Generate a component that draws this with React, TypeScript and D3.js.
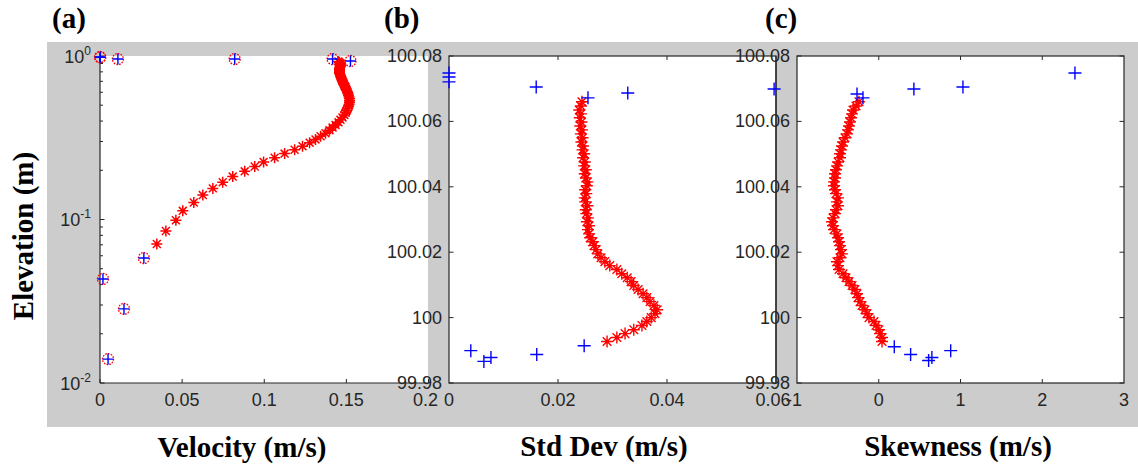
import React from "react";
import * as d3 from "d3";

// ---------- Panel (a): velocity profile ----------
const velElev = [0.0708,0.085,0.099,0.113,0.127,0.141,0.155,0.169,0.183,0.197,0.211,0.225,0.239,0.253,0.267,0.281,0.295,0.309,0.323,0.337,0.351,0.365,0.379,0.393,0.407,0.421,0.435,0.449,0.463,0.477,0.491,0.505,0.519,0.533,0.547,0.561,0.575,0.589,0.603,0.617,0.631,0.645,0.659,0.673,0.687,0.701,0.715,0.729,0.743,0.757,0.771,0.785,0.799,0.813,0.827,0.841,0.855,0.869,0.883,0.897,0.911,0.925];
const velValues = [0.0346,0.0401,0.0462,0.0504,0.0571,0.0626,0.0687,0.0747,0.0808,0.0881,0.0942,0.0996,0.1063,0.1124,0.1185,0.1233,0.1276,0.1312,0.1343,0.1373,0.1397,0.1416,0.1434,0.1452,0.1464,0.1476,0.1488,0.1495,0.1501,0.1507,0.1513,0.1516,0.1519,0.1519,0.1519,0.1516,0.1513,0.1510,0.1507,0.1501,0.1498,0.1495,0.1488,0.1485,0.1482,0.1476,0.1473,0.1470,0.1467,0.1464,0.1461,0.1458,0.1458,0.1458,0.1458,0.1458,0.1461,0.1464,0.1464,0.1464,0.1458,0.1452];
const velPtElev = [0.986,0.982,0.958,0.958,0.958,0.932,0.0581,0.0433,0.0284,0.0140];
const velPtValues = [0.0,0.0002,0.0109,0.082,0.1416,0.1525,0.0267,0.0018,0.0146,0.0049];

// ---------- Panels (b) and (c): profiles ----------
const profElev = [99.9927,99.9939,99.9951,99.9963,99.9976,99.9988,100.0000,100.0012,100.0024,100.0037,100.0049,100.0061,100.0073,100.0086,100.0098,100.0110,100.0122,100.0134,100.0147,100.0159,100.0171,100.0183,100.0195,100.0208,100.0220,100.0232,100.0244,100.0256,100.0269,100.0281,100.0293,100.0305,100.0318,100.0330,100.0342,100.0354,100.0366,100.0379,100.0391,100.0403,100.0415,100.0427,100.0440,100.0452,100.0464,100.0476,100.0489,100.0501,100.0513,100.0525,100.0537,100.0550,100.0562,100.0574,100.0586,100.0598,100.0611,100.0623,100.0635,100.0647,100.0660];
const stdValues = [0.0290,0.0308,0.0323,0.0339,0.0354,0.0363,0.0371,0.0378,0.0382,0.0376,0.0369,0.0363,0.0356,0.0347,0.0339,0.0334,0.0327,0.0317,0.0308,0.0295,0.0286,0.0279,0.0273,0.0270,0.0266,0.0264,0.0259,0.0257,0.0255,0.0257,0.0253,0.0255,0.0252,0.0251,0.0254,0.0250,0.0249,0.0252,0.0250,0.0253,0.0254,0.0251,0.0249,0.0251,0.0248,0.0249,0.0246,0.0248,0.0245,0.0246,0.0243,0.0245,0.0242,0.0244,0.0241,0.0243,0.0240,0.0242,0.0239,0.0242,0.0244];
const skewValues = [0.040,0.040,0.015,0.003,-0.034,-0.058,-0.119,-0.144,-0.168,-0.205,-0.229,-0.254,-0.266,-0.291,-0.327,-0.364,-0.401,-0.437,-0.486,-0.498,-0.511,-0.474,-0.450,-0.462,-0.474,-0.486,-0.498,-0.511,-0.547,-0.560,-0.572,-0.560,-0.535,-0.523,-0.498,-0.511,-0.498,-0.523,-0.535,-0.547,-0.547,-0.535,-0.535,-0.523,-0.511,-0.498,-0.474,-0.474,-0.462,-0.450,-0.437,-0.413,-0.388,-0.376,-0.364,-0.352,-0.339,-0.327,-0.315,-0.278,-0.242];

const stdPtElev = [100.0748,100.0736,100.0721,100.0705,100.0672,100.0687,99.9899,99.9866,99.9878,99.9887,99.9914];
const stdPtValues = [0.0,0.0,0.0,0.016,0.0255,0.0328,0.004,0.0064,0.0077,0.0161,0.0248];
const skewPtElev = [100.0699,100.0684,100.0672,100.0699,100.0705,100.0748,99.9911,99.9887,99.9869,99.9878,99.9899];
const skewPtValues = [-1.28,-0.266,-0.193,0.43,1.03,2.40,0.19,0.39,0.61,0.65,0.88];

// ---------- ticks ----------
const aXTicks = [0, 0.05, 0.1, 0.15, 0.2];
const aXLabels = ["0", "0.05", "0.1", "0.15", "0.2"];
const aYTicks = [0.01, 0.1, 1];
const aYExp = ["-2", "-1", "0"];
const aYMinorMant = [2, 3, 4, 5, 6, 7, 8, 9];
const bXTicks = [0, 0.02, 0.04, 0.06];
const bXLabels = ["0", "0.02", "0.04", "0.06"];
const elevTicks = [99.98, 100, 100.02, 100.04, 100.06, 100.08];
const elevLabels = ["99.98", "100", "100.02", "100.04", "100.06", "100.08"];
const cXTicks = [-1, 0, 1, 2, 3];
const cXLabels = ["-1", "0", "1", "2", "3"];

const GRAY = "#cccccc";
const AX = "#262626";
const TF = "'Liberation Sans', Arial, Helvetica, sans-serif";
const LF = "'Liberation Serif', 'Times New Roman', serif";
const TOP = 56, BOT = 383;

function asterisk(x: number, y: number, r: number) {
  const d = r * 0.72;
  return `M${x - r},${y}H${x + r}M${x},${y - r}V${y + r}M${x - d},${y - d}L${x + d},${y + d}M${x - d},${y + d}L${x + d},${y - d}`;
}
function plus(x: number, y: number, r: number) {
  return `M${x - r},${y}H${x + r}M${x},${y - r}V${y + r}`;
}

export default function App() {
  const xA = d3.scaleLinear().domain([0, 0.2]).range([100, 428.5]);
  const yA = d3.scaleLog().domain([0.01, 1]).range([BOT, TOP]);
  const xB = d3.scaleLinear().domain([0, 0.06]).range([449, 776]);
  const xC = d3.scaleLinear().domain([-1, 3]).range([797, 1124]);
  const yE = d3.scaleLinear().domain([99.98, 100.08]).range([BOT, TOP]);

  const minorA: number[] = [];
  [0.01, 0.1].forEach((dec) => aYMinorMant.forEach((m) => minorA.push(m * dec)));

  const tickText = { fontFamily: TF, fontSize: 18, fill: AX } as const;

  const asterA = velElev.map((e, i) => asterisk(xA(velValues[i]), yA(e), 5.5)).join("");
  const asterB = profElev.map((e, i) => asterisk(xB(stdValues[i]), yE(e), 6)).join("");
  const asterC = profElev.map((e, i) => asterisk(xC(skewValues[i]), yE(e), 6)).join("");
  const plusB = stdPtElev.map((e, i) => plus(xB(stdPtValues[i]), yE(e), 6.5)).join("");
  const plusC = skewPtElev.map((e, i) => plus(xC(skewPtValues[i]), yE(e), 6.5)).join("");

  return (
    <svg width={1138} height={464} style={{ position: "absolute", left: 0, top: 0 }}>
      <rect x={0} y={0} width={1138} height={464} fill="#ffffff" />
      <rect x={47} y={42} width={1091} height={385} fill={GRAY} />
      <rect x={100} y={TOP} width={328} height={BOT - TOP} fill="#fff" />
      <rect x={449} y={TOP} width={327} height={BOT - TOP} fill="#fff" />
      <rect x={797} y={TOP} width={327} height={BOT - TOP} fill="#fff" />

      {/* ---------- Panel a ---------- */}
      <g>
        <line x1={100} y1={TOP} x2={100} y2={BOT} stroke={AX} strokeWidth={1.2} />
        <line x1={100} y1={BOT} x2={428} y2={BOT} stroke={AX} strokeWidth={1.2} />
        {aXTicks.map((t, i) => (
          <g key={"ax" + i}>
            <line x1={xA(t)} x2={xA(t)} y1={BOT} y2={BOT - 4} stroke={AX} />
            <text x={xA(t) - (i === 4 ? 3 : 0)} y={406} textAnchor="middle" {...tickText}>{aXLabels[i]}</text>
          </g>
        ))}
        {aYTicks.map((t, i) => (
          <g key={"ay" + i}>
            <line x1={100} x2={104.5} y1={yA(t)} y2={yA(t)} stroke={AX} />
            <text x={91} y={yA(t) + 6.5} textAnchor="end" {...tickText}>
              10<tspan dy={-8} fontSize={12}>{aYExp[i]}</tspan>
            </text>
          </g>
        ))}
        {minorA.map((t, i) => (
          <line key={"am" + i} x1={100} x2={103} y1={yA(t)} y2={yA(t)} stroke={AX} />
        ))}
        <path d={asterA} stroke="#ff0000" strokeWidth={1.5} fill="none" />
        {velPtElev.map((e, i) => (
          <g key={"ac" + i}>
            <circle cx={xA(velPtValues[i])} cy={yA(e)} r={5.5} fill="none" stroke="#ff0000" strokeWidth={1.3} strokeDasharray="1.6 1.2" />
            <path d={plus(xA(velPtValues[i]), yA(e), 5.5)} stroke="#0000ff" strokeWidth={1.4} />
          </g>
        ))}
      </g>

      {/* ---------- Panel b ---------- */}
      <g>
        <rect x={449} y={TOP} width={327} height={BOT - TOP} fill="none" stroke={AX} strokeWidth={1.2} />
        {bXTicks.map((t, i) => (
          <g key={"bx" + i}>
            {i > 0 && i < 3 && (
              <>
                <line x1={xB(t)} x2={xB(t)} y1={BOT} y2={BOT - 4} stroke={AX} />
                <line x1={xB(t)} x2={xB(t)} y1={TOP} y2={TOP + 4} stroke={AX} />
              </>
            )}
            <text x={xB(t) - (i === 3 ? 3 : 0)} y={406} textAnchor="middle" {...tickText}>{bXLabels[i]}</text>
          </g>
        ))}
        {elevTicks.map((t, i) => (
          <g key={"by" + i}>
            <line x1={449} x2={453.5} y1={yE(t)} y2={yE(t)} stroke={AX} />
            <text x={442} y={yE(t) + 6} textAnchor="end" {...tickText}>{elevLabels[i]}</text>
          </g>
        ))}
        <path d={asterB} stroke="#ff0000" strokeWidth={1.4} fill="none" />
        <path d={plusB} stroke="#0000ff" strokeWidth={1.4} fill="none" />
      </g>

      {/* ---------- Panel c ---------- */}
      <g>
        <rect x={797} y={TOP} width={327} height={BOT - TOP} fill="none" stroke={AX} strokeWidth={1.2} />
        {cXTicks.map((t, i) => (
          <g key={"cx" + i}>
            {i > 0 && i < 4 && (
              <>
                <line x1={xC(t)} x2={xC(t)} y1={BOT} y2={BOT - 4} stroke={AX} />
                <line x1={xC(t)} x2={xC(t)} y1={TOP} y2={TOP + 4} stroke={AX} />
              </>
            )}
            <text x={xC(t) - (i === 0 ? 3 : 0)} y={406} textAnchor="middle" {...tickText}>{cXLabels[i]}</text>
          </g>
        ))}
        {elevTicks.map((t, i) => (
          <g key={"cy" + i}>
            <line x1={797} x2={801.5} y1={yE(t)} y2={yE(t)} stroke={AX} />
            <line x1={1124} x2={1119.5} y1={yE(t)} y2={yE(t)} stroke={AX} />
            <text x={790} y={yE(t) + 6} textAnchor="end" {...tickText}>{elevLabels[i]}</text>
          </g>
        ))}
        <line x1={776} y1={TOP} x2={776} y2={BOT} stroke={AX} strokeWidth={1.2} />
        <path d={asterC} stroke="#ff0000" strokeWidth={1.4} fill="none" />
        <path d={plusC} stroke="#0000ff" strokeWidth={1.4} fill="none" />
      </g>

      {/* ---------- Titles and labels ---------- */}
      <g fontFamily={LF} fontWeight="bold" fontSize={29} fill="#000">
        <text x={52} y={28}>(a)</text>
        <text x={384} y={28}>(b)</text>
        <text x={765} y={28}>(c)</text>
        <text x={242} y={457} textAnchor="middle">Velocity (m/s)</text>
        <text x={604} y={456} textAnchor="middle">Std Dev (m/s)</text>
        <text x={958} y={456} textAnchor="middle">Skewness (m/s)</text>
        <text transform="translate(33,236) rotate(-90)" textAnchor="middle">Elevation (m)</text>
      </g>
    </svg>
  );
}
